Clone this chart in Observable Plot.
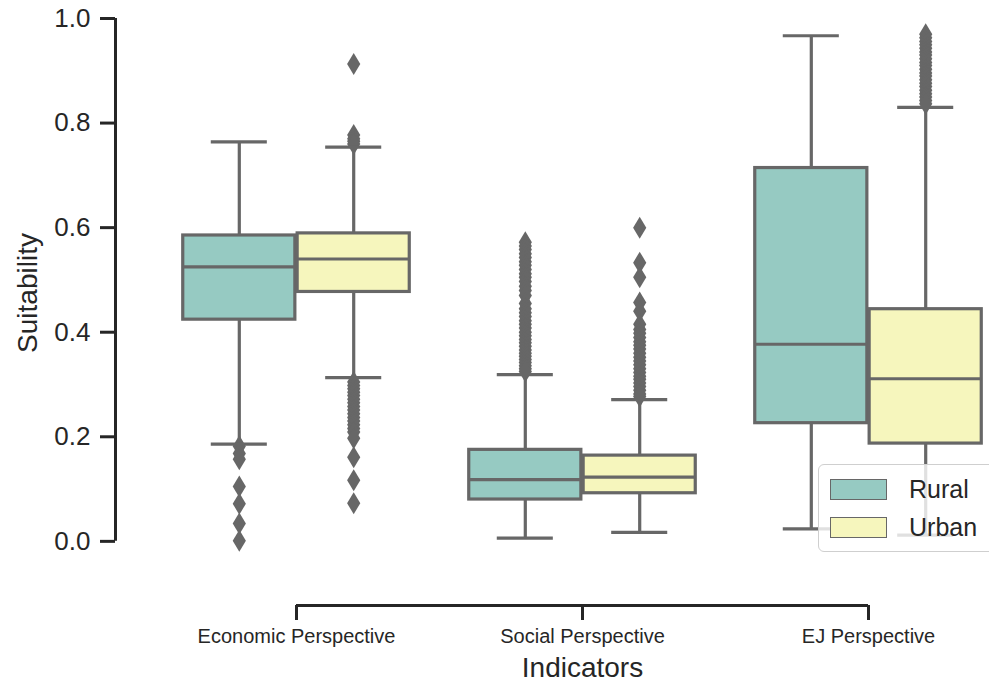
<!DOCTYPE html>
<html>
<head>
<meta charset="utf-8">
<script src="https://cdn.jsdelivr.net/npm/d3@7"></script>
<script src="https://cdn.jsdelivr.net/npm/@observablehq/plot@0.6"></script>
<style>
  body { margin: 0; background: #fff; overflow: hidden; }
  #chart { position: relative; width: 989px; height: 685px; overflow: hidden; }
  #chart svg { display: block; }
  .legend {
    position: absolute; left: 818px; top: 464px; width: 200px; height: 86px;
    background: rgba(255, 255, 255, 0.8); border: 1.5px solid #cfcfcf; border-radius: 6px;
    font-family: "Liberation Sans", Arial, sans-serif; font-size: 25px; color: #262626;
  }
  .legend .row { position: absolute; left: 11px; height: 24px; display: flex; align-items: center; }
  .legend .swatch { width: 55px; height: 19px; border: 1.5px solid #676767; margin-right: 22px; }
</style>
</head>
<body>
<div id="chart"></div>
<script>
// Categories on the x axis and the two groups dodged within each
const indicators = ["Economic Perspective", "Social Perspective", "EJ Perspective"];
const areas = ["Rural", "Urban"];
const areaColors = ["#96cac2", "#f6f6bd"];
const yTicks = [0, 0.2, 0.4, 0.6, 0.8, 1.0];

// Box statistics per indicator (Economic, Social, EJ)
const ruralWhiskerLow  = [0.186, 0.006, 0.024];
const ruralQ1          = [0.424, 0.080, 0.226];
const ruralMedian      = [0.525, 0.118, 0.377];
const ruralQ3          = [0.585, 0.175, 0.714];
const ruralWhiskerHigh = [0.764, 0.319, 0.967];

const urbanWhiskerLow  = [0.313, 0.017, 0.012];
const urbanQ1          = [0.477, 0.092, 0.187];
const urbanMedian      = [0.540, 0.123, 0.311];
const urbanQ3          = [0.589, 0.164, 0.444];
const urbanWhiskerHigh = [0.754, 0.271, 0.830];

// Points beyond the whiskers
const economicRuralOutliers = [0.182, 0.168, 0.157, 0.105, 0.072, 0.034, 0.001];
const economicUrbanOutliers = [0.913, 0.777, 0.770, 0.765, 0.760,
  0.305, 0.298, 0.292, 0.285, 0.279, 0.272, 0.265, 0.258, 0.251, 0.244, 0.237,
  0.230, 0.223, 0.216, 0.209, 0.197, 0.161, 0.117, 0.073];
const socialRuralOutliers = [0.572, 0.565, 0.558, 0.550, 0.543, 0.535, 0.528, 0.520,
  0.512, 0.505, 0.497, 0.488, 0.480, 0.470, 0.455, 0.445, 0.437, 0.430, 0.422,
  0.415, 0.408, 0.400, 0.393, 0.386, 0.380, 0.373, 0.366, 0.360, 0.354, 0.348,
  0.342, 0.336, 0.330, 0.325];
const socialUrbanOutliers = [0.600, 0.533, 0.505, 0.457, 0.440, 0.415, 0.405, 0.398,
  0.390, 0.382, 0.375, 0.368, 0.360, 0.352, 0.345, 0.338, 0.330, 0.323, 0.316,
  0.310, 0.303, 0.296, 0.289, 0.282, 0.277];
const ejRuralOutliers = [];
const ejUrbanOutliers = [0.970, 0.963, 0.956, 0.950, 0.943, 0.936, 0.930, 0.923,
  0.916, 0.910, 0.903, 0.896, 0.890, 0.883, 0.876, 0.870, 0.863, 0.856, 0.850,
  0.843, 0.837];

// Layout of the dodged boxes (in category units)
const dodge = {Rural: -0.2, Urban: 0.2};
const boxHalf = 0.196;
const capHalf = 0.098;
const spineOffset = 38;
const ink = "#262626";
const gray = "#676767";
const lw = 3.2;

const stats = {
  Rural: [ruralWhiskerLow, ruralQ1, ruralMedian, ruralQ3, ruralWhiskerHigh],
  Urban: [urbanWhiskerLow, urbanQ1, urbanMedian, urbanQ3, urbanWhiskerHigh]
};
const outlierSets = {
  Rural: [economicRuralOutliers, socialRuralOutliers, ejRuralOutliers],
  Urban: [economicUrbanOutliers, socialUrbanOutliers, ejUrbanOutliers]
};

const boxes = indicators.flatMap((indicator, i) => areas.map(area => {
  const [low, q1, median, q3, high] = stats[area].map(s => s[i]);
  return {indicator, area, pos: i + dodge[area], low, q1, median, q3, high};
}));
const outliers = indicators.flatMap((indicator, i) => areas.flatMap(area =>
  outlierSets[area][i].map(value => ({indicator, area, pos: i + dodge[area], value}))));

// Matplotlib-style thin diamond marker
const thinDiamond = {
  draw(context, size) {
    const h = Math.sqrt(size / Math.PI);
    const w = h * 0.6;
    context.moveTo(0, -h);
    context.lineTo(w, 0);
    context.lineTo(0, h);
    context.lineTo(-w, 0);
    context.closePath();
  }
};

const xDomain = [-0.5, 2.5];
const yDomain = [-0.05, 1.0];

const chart = Plot.plot({
  width: 989,
  height: 685,
  marginLeft: 115,
  marginTop: 18,
  marginRight: 0,
  marginBottom: 80,
  style: {fontFamily: "'Liberation Sans', Arial, sans-serif", color: ink, background: "#fff"},
  x: {domain: xDomain, range: [153, 1011]},
  y: {domain: yDomain, range: [567, 18]},
  color: {domain: areas, range: areaColors},
  marks: [
    // trimmed, offset spines
    Plot.ruleX([xDomain[0]], {y1: yTicks[0], y2: yTicks[yTicks.length - 1], dx: -spineOffset, stroke: ink, strokeWidth: 3}),
    Plot.ruleY([yDomain[0]], {x1: 0, x2: indicators.length - 1, dy: spineOffset, stroke: ink, strokeWidth: 3}),
    Plot.axisY({ticks: yTicks, tickFormat: d3.format(".1f"), tickSize: 15, tickPadding: 10,
      fontSize: 26, strokeWidth: 3, label: null}),
    Plot.axisX({ticks: d3.range(indicators.length), tickFormat: i => indicators[i], tickSize: 15,
      tickPadding: 8, fontSize: 20, strokeWidth: 3, label: null}),
    Plot.text(["Indicators"], {x: (indicators.length - 1) / 2, frameAnchor: "bottom", dy: 71,
      textAnchor: "middle", fontSize: 28, fill: ink}),
    Plot.text(["Suitability"], {y: (yDomain[0] + yDomain[1]) / 2, frameAnchor: "left", dx: -87,
      textAnchor: "middle", rotate: -90, fontSize: 28, fill: ink}),

    // whiskers and caps
    Plot.ruleX(boxes, {x: "pos", y1: "low", y2: "q1", stroke: gray, strokeWidth: lw}),
    Plot.ruleX(boxes, {x: "pos", y1: "q3", y2: "high", stroke: gray, strokeWidth: lw}),
    // outliers
    Plot.dot(outliers, {x: "pos", y: "value", symbol: thinDiamond, r: 11, fill: gray, stroke: null}),
    Plot.ruleY(boxes, {y: "low", x1: d => d.pos - capHalf, x2: d => d.pos + capHalf, stroke: gray, strokeWidth: lw}),
    Plot.ruleY(boxes, {y: "high", x1: d => d.pos - capHalf, x2: d => d.pos + capHalf, stroke: gray, strokeWidth: lw}),
    // boxes and medians
    Plot.rect(boxes, {x1: d => d.pos - boxHalf, x2: d => d.pos + boxHalf, y1: "q1", y2: "q3",
      fill: "area", stroke: gray, strokeWidth: lw}),
    Plot.ruleY(boxes, {y: "median", x1: d => d.pos - boxHalf, x2: d => d.pos + boxHalf, stroke: gray, strokeWidth: lw})
  ]
});

const root = document.getElementById("chart");
root.appendChild(chart);

// Legend drawn over the lower-right corner of the plot
const legend = document.createElement("div");
legend.className = "legend";
areas.forEach((area, i) => {
  const row = document.createElement("div");
  row.className = "row";
  row.style.top = (12 + i * 38) + "px";
  const sw = document.createElement("div");
  sw.className = "swatch";
  sw.style.background = areaColors[i];
  const label = document.createElement("span");
  label.textContent = area;
  row.appendChild(sw);
  row.appendChild(label);
  legend.appendChild(row);
});
root.appendChild(legend);
</script>
</body>
</html>
